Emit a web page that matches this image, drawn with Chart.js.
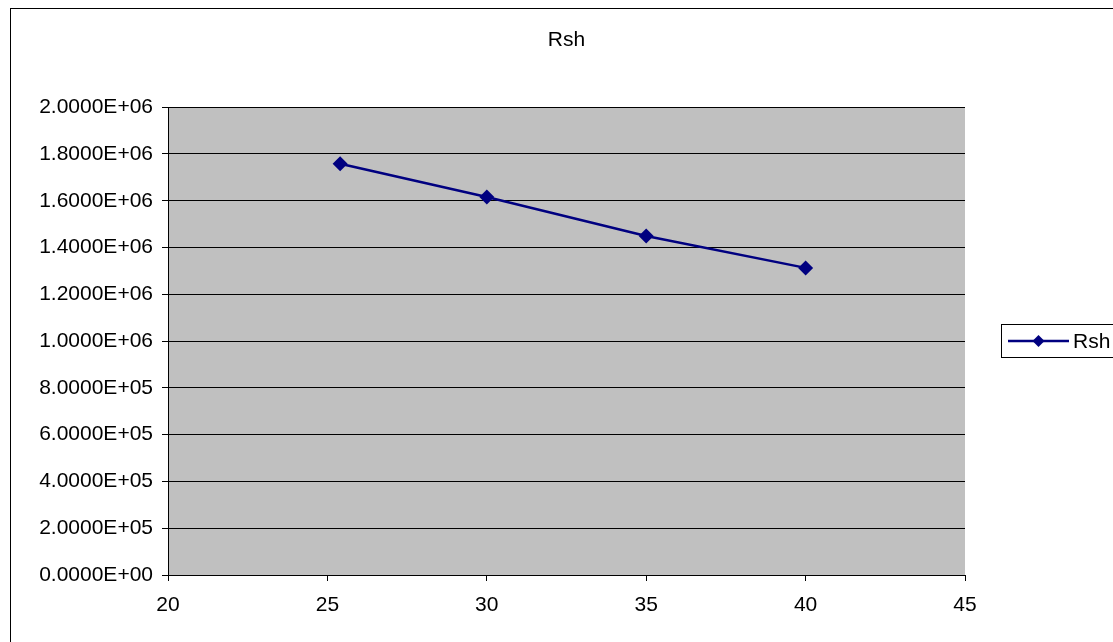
<!DOCTYPE html>
<html>
<head>
<meta charset="utf-8">
<script src="https://cdn.jsdelivr.net/npm/chart.js@4/dist/chart.umd.min.js"></script>
<style>
  html, body { margin: 0; padding: 0; background: #ffffff; overflow: hidden; }
  #wrap { position: relative; width: 1113px; height: 642px; }
</style>
</head>
<body>
<div id="wrap"><canvas id="c" width="1113" height="642"></canvas></div>
<script>
// Data
const chartTitle = 'Rsh';
const seriesName = 'Rsh';
const xValues = [25.4, 30, 35, 40];
const rshValues = [1.758e6, 1.616e6, 1.449e6, 1.313e6];
const xMin = 20, xMax = 45, xStep = 5;
const yMin = 0, yMax = 2.0e6, yStep = 2.0e5;

const FONT = 'Liberation Sans, Arial, sans-serif';
const FS = 21;
const NAVY = '#000080';

function sciLabel(v) {
  const parts = Number(v).toExponential(4).split('e');
  let e = parseInt(parts[1], 10);
  const sign = e < 0 ? '-' : '+';
  e = Math.abs(e);
  return parts[0] + 'E' + sign + (e < 10 ? '0' + e : '' + e);
}

const bgPlugin = {
  id: 'bgPlugin',
  beforeDraw(chart) {
    const { ctx, chartArea: a } = chart;
    ctx.save();
    ctx.fillStyle = '#ffffff';
    ctx.fillRect(0, 0, chart.width, chart.height);
    ctx.fillStyle = '#C0C0C0';
    ctx.fillRect(a.left, a.top, a.right - a.left, a.bottom - a.top);
    ctx.restore();
  },
  afterDraw(chart) {
    const ctx = chart.ctx;
    ctx.save();
    // outer chart border
    ctx.strokeStyle = '#000000';
    ctx.lineWidth = 1;
    ctx.strokeRect(10.5, 8.5, 1200, 1000);
    // legend box
    const ds = chart.data.datasets[0];
    const bx = 1001.5, by = 324.5, bh = 33;
    ctx.fillStyle = '#ffffff';
    ctx.fillRect(bx, by, 200, bh);
    ctx.strokeRect(bx, by, 200, bh);
    const cy = by + bh / 2;
    ctx.strokeStyle = NAVY;
    ctx.lineWidth = 2.5;
    ctx.beginPath();
    ctx.moveTo(1008, cy);
    ctx.lineTo(1069, cy);
    ctx.stroke();
    ctx.fillStyle = NAVY;
    const r = 6;
    ctx.beginPath();
    ctx.moveTo(1038.5, cy - r);
    ctx.lineTo(1038.5 + r, cy);
    ctx.lineTo(1038.5, cy + r);
    ctx.lineTo(1038.5 - r, cy);
    ctx.closePath();
    ctx.fill();
    ctx.fillStyle = '#000000';
    ctx.font = FS + 'px ' + FONT;
    ctx.textBaseline = 'middle';
    ctx.textAlign = 'left';
    ctx.fillText(ds.label, 1073, cy + 1);
    ctx.restore();
  }
};

new Chart(document.getElementById('c'), {
  type: 'scatter',
  data: {
    datasets: [{
      label: seriesName,
      data: xValues.map((x, i) => ({ x: x, y: rshValues[i] })),
      showLine: true,
      borderColor: NAVY,
      backgroundColor: NAVY,
      borderWidth: 2.5,
      pointStyle: 'rectRot',
      pointRadius: 7.5,
      pointHoverRadius: 7.5,
      pointBorderWidth: 0,
      tension: 0
    }]
  },
  options: {
    responsive: false,
    animation: false,
    devicePixelRatio: 1,
    layout: { padding: { left: 0, right: 148, top: 0, bottom: 0 } },
    plugins: {
      legend: { display: false },
      tooltip: { enabled: false },
      title: {
        display: true,
        text: chartTitle,
        fullSize: false,
        color: '#000000',
        font: { family: FONT, size: FS, weight: 'normal', lineHeight: 1.2 },
        padding: { top: 28, bottom: 54 }
      }
    },
    scales: {
      x: {
        type: 'linear',
        min: xMin, max: xMax,
        ticks: { stepSize: xStep, color: '#000000', font: { family: FONT, size: FS }, padding: 12, maxRotation: 0 },
        grid: { display: true, drawOnChartArea: false, drawTicks: true, tickLength: 6, color: '#000000' },
        border: { display: true, color: '#000000', width: 1 },
        afterFit(scale) { scale.height = 67; }
      },
      y: {
        type: 'linear',
        min: yMin, max: yMax,
        ticks: { stepSize: yStep, color: '#000000', font: { family: FONT, size: FS }, padding: 9, callback: (v) => sciLabel(v) },
        grid: { display: true, drawOnChartArea: true, drawTicks: true, tickLength: 6, color: '#000000', lineWidth: 1 },
        border: { display: true, color: '#000000', width: 1 },
        afterFit(scale) { scale.width = 168; }
      }
    }
  },
  plugins: [bgPlugin]
});
</script>
</body>
</html>
